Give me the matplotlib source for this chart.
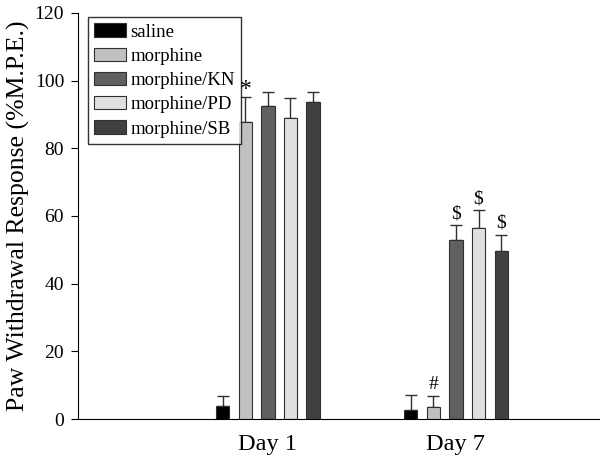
import numpy as np
import matplotlib.pyplot as plt

plt.rcParams['font.family'] = ['Liberation Serif', 'DejaVu Serif']

days = ['Day 1', 'Day 7']
groups = ['saline', 'morphine', 'morphine/KN', 'morphine/PD', 'morphine/SB']
colors = ['#000000', '#c0c0c0', '#606060', '#e0e0e0', '#404040']

means = {
    'saline':      [3.9, 2.7],
    'morphine':    [87.7, 3.5],
    'morphine/KN': [92.4, 52.9],
    'morphine/PD': [88.9, 56.4],
    'morphine/SB': [93.8, 49.7],
}
errors = {
    'saline':      [2.8, 4.4],
    'morphine':    [7.3, 3.4],
    'morphine/KN': [4.1, 4.4],
    'morphine/PD': [5.8, 5.4],
    'morphine/SB': [2.9, 4.8],
}
# significance marks: (group, day index, symbol)
marks = [('morphine', 0, '*'), ('morphine', 1, '#'),
         ('morphine/KN', 1, '$'), ('morphine/PD', 1, '$'), ('morphine/SB', 1, '$')]

fig = plt.figure(figsize=(6, 4.59), dpi=100)
ax = fig.add_axes([0.13, 0.087, 0.87, 0.885])

x = np.arange(1, len(days) + 1)
step = 0.12
width = 0.07
for i, g in enumerate(groups):
    pos = x + (i - 2) * step
    ax.bar(pos, means[g], width, color=colors[i], edgecolor='#303030',
           linewidth=0.8, label=g, zorder=2)
    ax.errorbar(pos, means[g], yerr=[np.zeros(len(days)), errors[g]],
                fmt='none', ecolor='#303030', elinewidth=1, capsize=4,
                capthick=1, zorder=1)

for g, d, sym in marks:
    i = groups.index(g)
    pos = x[d] + (i - 2) * step
    top = means[g][d] + errors[g][d]
    if sym == '*':
        ax.text(pos, top - 0.6, sym, ha='center', va='bottom', fontsize=17)
    else:
        ax.text(pos, top + 0.8, sym, ha='center', va='bottom', fontsize=14)

ax.set_ylim(0, 120)
ax.set_xlim(-0.01, 2.766)
ax.set_yticks(range(0, 121, 20))
ax.set_xticks(x)
ax.set_xticklabels(days, fontsize=17.5)
ax.tick_params(axis='x', length=0, pad=11)
ax.tick_params(axis='y', labelsize=14, direction='out', length=5, pad=5)
ax.set_ylabel('Paw Withdrawal Response (%M.P.E.)', fontsize=18.5, labelpad=3)
ax.spines['top'].set_visible(False)
ax.spines['right'].set_visible(False)

leg = ax.legend(loc='upper left', bbox_to_anchor=(0.019, 0.99), fontsize=13.5,
                frameon=True, fancybox=False, edgecolor='black',
                handlelength=1.7, handleheight=0.7, handletextpad=0.2,
                labelspacing=0.38, borderpad=0.35, borderaxespad=0)
leg.get_frame().set_linewidth(1)

fig.savefig('out.png', dpi=100)
